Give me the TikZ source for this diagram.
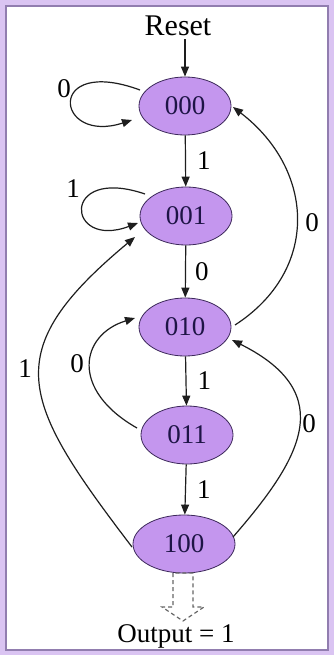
\documentclass[tikz,border=0pt]{standalone}
\usepackage{fontspec}
\setmainfont{Liberation Serif}
\usetikzlibrary{shapes.geometric,arrows.meta,calc}
\definecolor{statefill}{RGB}{196,150,238}
\definecolor{stateline}{RGB}{60,40,90}
\definecolor{statetext}{RGB}{30,20,70}
\definecolor{frameband}{RGB}{218,196,242}
\definecolor{frameline}{RGB}{145,125,175}
\definecolor{edgecol}{RGB}{30,30,30}
\tikzset{
  state/.style={ellipse, draw=stateline, line width=0.8pt, fill=statefill,
    minimum width=92pt, minimum height=58pt, inner sep=0pt,
    text=statetext, font=\fontsize{27}{27}\selectfont},
  wide/.style={minimum width=102pt},
  trans/.style={draw=edgecol, line width=1.2pt,
    -{Triangle[length=10pt,width=8pt]}},
  lbl/.style={font=\fontsize{27}{27}\selectfont, text=black, inner sep=0pt},
  outarrow/.style={draw=gray!80!black, line width=1.2pt,
    dash pattern=on 4pt off 3pt}
}
\begin{document}
\begin{tikzpicture}[x=1pt,y=-1pt]
  % frame
  \fill[frameband] (0,0) rectangle (334,655);
  \fill[white] (7,7) rectangle (327,649);
  \draw[frameline, line width=1.2pt] (6,6) rectangle (328,650);
  \useasboundingbox (0,0) rectangle (334,655);

  % states
  \node[state] (A) at (185,106) {000};
  \node[state] (B) at (186,216) {001};
  \node[state] (C) at (185,327) {010};
  \node[state] (D) at (187,435) {011};
  \node[state,wide] (E) at (184,544) {100};

  % reset input and output marker
  \node[lbl, font=\fontsize{30}{30}\selectfont] (R) at (178,26) {Reset};
  \node[lbl] (O) at (176,636) {Output = 1};

  \draw[trans] (R.south -| A.north) ++(0,3) -- (A.north);

  % self loops
  \draw[trans] ($(A)+(-45,-16)$) .. controls (45,55) and (55,145) .. ($(A)+(-53,14)$);
  \node[lbl] (l0) at (64,89) {0};
  \draw[trans] ($(B)+(-41,-22)$) .. controls (60,165) and (66,250) .. ($(B)+(-48,7)$);
  \node[lbl] (l1) at (73,189) {1};

  % forward chain
  \draw[trans] (A) -- (B) node[lbl, midway, right=11pt] {1};
  \draw[trans] (B) -- (C) node[lbl, midway, right=9pt] {0};
  \draw[trans] (C) -- (D) node[lbl, midway, right=11pt] {1};
  \draw[trans] (D) -- (E) node[lbl, midway, right=11pt] {1};

  % back edges
  \draw[trans] ($(C)+(50,-2)$) .. controls (320,270) and (315,170) .. ($(A)+(48,1)$);
  \node[lbl] (l2) at (312,223) {0};

  \draw[trans] ($(D)+(-50,-7)$) .. controls (70,390) and (80,335) .. ($(C)+(-50,-9)$);
  \node[lbl] (l3) at (77,364) {0};

  \draw[trans] ($(E)+(-52,3)$) .. controls (20,400) and (-3,352) .. ($(B)+(-51,21)$);
  \node[lbl] (l4) at (25,369) {1};

  \draw[trans] ($(E)+(49,-7)$) .. controls (300,460) and (340,394) .. ($(C)+(47,13)$);
  \node[lbl] (l5) at (309,424) {0};

  % hollow dashed output arrow
  \draw[outarrow] (173,573) -- (173,607) -- (162,607) -- (183,621)
    -- (204,607) -- (193,607) -- (193,573) -- cycle;
\end{tikzpicture}
\end{document}
